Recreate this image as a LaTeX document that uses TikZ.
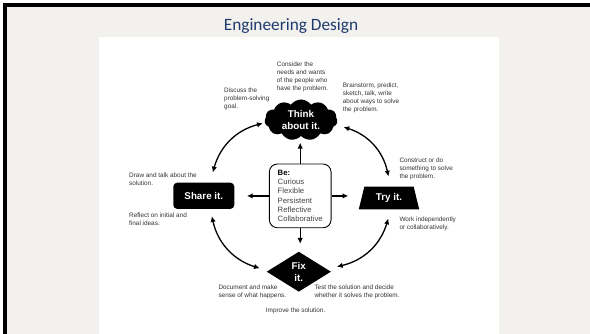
\documentclass[tikz,border=0pt]{standalone}
\usepackage{fontspec}
\setmainfont{Liberation Sans}
\newfontfamily\titlefont{Carlito}
\usetikzlibrary{shapes.geometric,shapes.symbols,arrows.meta}
\definecolor{slidebg}{HTML}{F2F1EE}
\definecolor{titleblue}{HTML}{1F3A6E}
\definecolor{annot}{HTML}{333333}
\definecolor{begray}{HTML}{444444}
\begin{document}
\begin{tikzpicture}[x=1pt,y=-1pt,
  note/.style={anchor=north west, inner sep=0pt, align=left, text=annot, font=\fontsize{6.4}{8}\selectfont},
  blk/.style={fill=black, text=white, font=\bfseries\fontsize{9.8}{11.7}\selectfont, align=center, inner sep=0pt},
  arr/.style={line width=1.3pt, -{Latex[length=5.8pt,width=5.4pt]}},
  dbl/.style={line width=1.3pt, {Latex[length=5.8pt,width=5.4pt]}-{Latex[length=5.8pt,width=5.4pt]}},
]
\useasboundingbox (0,0) rectangle (590,334);
\fill[white] (0,0) rectangle (590,334);
\fill[slidebg] (2.7,3.3) rectangle (590,334);
\fill[black] (2.7,3.3) rectangle (6.5,334);
\fill[black] (2.7,3.3) rectangle (590,6.8);
\fill[white] (99,37) rectangle (499,334);
\node[anchor=base, inner sep=0pt, text=titleblue, font=\titlefont\fontsize{17.3}{20}\selectfont] (title) at (291,31) {Engineering Design};

\node[blk, cloud, cloud puffs=11, cloud puff arc=110, aspect=1.8, cloud ignores aspect, minimum width=73pt, minimum height=41pt] (think) at (301,120) {Think\\about it.};
\node[blk, trapezium, trapezium left angle=72, trapezium right angle=72, trapezium stretches=true, minimum width=60.6pt, minimum height=22.6pt] (try) at (389,198) {Try it.};
\node[blk, rounded corners=4pt, minimum width=61pt, minimum height=26.3pt] (share) at (203.8,195.8) {Share it.};
\node[blk, diamond, aspect=1.6, minimum width=64.3pt, minimum height=40pt] (fix) at (298.8,271.7) {Fix\\it.};
\node[draw=black, line width=0.9pt, rounded corners=8pt, fill=white, minimum width=61.7pt, minimum height=63.7pt, inner sep=0pt, align=left, font=\fontsize{7.7}{9.3}\selectfont, text=begray] (be) at (300.2,195.9) {{\color{black}\bfseries Be:}\\Curious\\Flexible\\Persistent\\Reflective\\Collaborative};

\draw[arr, shorten >=6.5pt] (be.north) -- (be.north |- think.south);
\draw[arr, shorten >=12.4pt] (be.west) -- (be.west -| share.east);
\draw[arr, shorten >=13pt] (be.east) -- (be.east -| try.west);
\draw[arr, shorten >=7.7pt] (be.south) -- (be.south |- fix.north);

\draw[dbl] ([xshift=9pt,yshift=10pt]share.north) to[bend left=30] ([xshift=-1.7pt,yshift=-3.3pt]think.west);
\draw[dbl] ([xshift=6pt,yshift=-7pt]think.east) to[bend left=30] ([xshift=-0.5pt,yshift=10pt]try.north);
\draw[dbl] ([xshift=-0.7pt,yshift=-9pt]try.south) to[bend left=30] ([xshift=5.7pt,yshift=5pt]fix.east);
\draw[dbl] ([xshift=-6.7pt,yshift=3.4pt]fix.west) to[bend left=30] ([xshift=8pt,yshift=-7pt]share.south);

\node[note] (consider) at (276.7,61.3) {Consider the\\needs and wants\\of the people who\\have the problem.};
\node[note] (discuss) at (224,88) {Discuss the\\problem-solving\\goal.};
\node[note] (brain) at (342.7,82.7) {Brainstorm, predict,\\sketch, talk, write\\about ways to solve\\the problem.};
\node[note] (construct) at (399.3,158) {Construct or do\\something to solve\\the problem.};
\node[note] (work) at (399.3,216.3) {Work independently\\or collaboratively.};
\node[note] (drawtalk) at (129,173) {Draw and talk about the\\solution.};
\node[note] (reflect) at (129,212.3) {Reflect on initial and\\final ideas.};
\node[note] (document) at (218.3,285) {Document and make\\sense of what happens.};
\node[note] (test) at (314.3,285) {Test the solution and decide\\whether it solves the problem.};
\node[note] (improve) at (265.7,308) {Improve the solution.};
\end{tikzpicture}
\end{document}
